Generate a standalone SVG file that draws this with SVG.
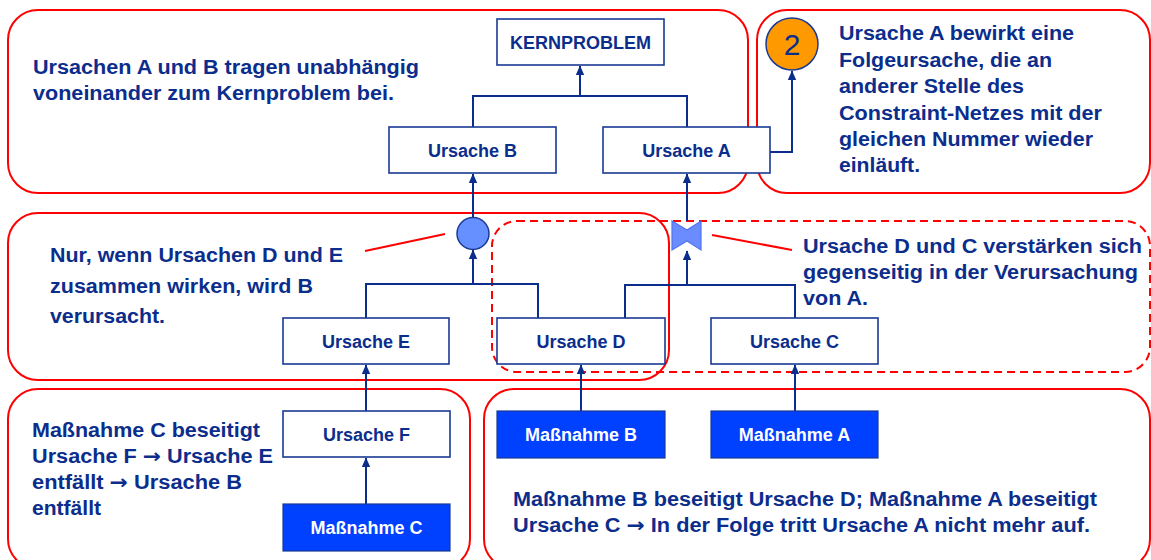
<svg xmlns="http://www.w3.org/2000/svg" width="1151" height="560" viewBox="0 0 1151 560">
<style>
.zone{fill:none;stroke:#ff0000;stroke-width:2}
.dash{stroke-dasharray:8 5}
.box{fill:#ffffff;stroke:#1a3a94;stroke-width:1.6}
.mbox{fill:#0040ff;stroke:#1a3a94;stroke-width:1.2}
.lbl{font-family:"Liberation Sans",Arial,sans-serif;font-weight:bold;font-size:18px;fill:#0b2d8c;text-anchor:middle}
.mlbl{font-family:"Liberation Sans",Arial,sans-serif;font-weight:bold;font-size:18px;fill:#ffffff;text-anchor:middle}
.note{font-family:"Liberation Sans",Arial,sans-serif;font-weight:bold;font-size:20px;fill:#0b2d8c}
.arr{font-family:"DejaVu Sans",sans-serif;font-weight:bold}
.con{fill:none;stroke:#0b2d8c;stroke-width:2}
.ann{fill:none;stroke:#ff0000;stroke-width:2}
</style>
<defs>
<marker id="ah" markerUnits="userSpaceOnUse" markerWidth="10" markerHeight="10" viewBox="0 0 10 10" refX="9" refY="5" orient="auto">
<path d="M0,0.8 L9.5,5 L0,9.2 Z" fill="#0b2d8c"/>
</marker>
</defs>

<g id="zones">
<rect class="zone" x="8" y="10" width="740" height="183" rx="30"/>
<rect class="zone" x="757" y="10" width="393" height="183" rx="30"/>
<rect class="zone" x="8" y="213" width="661" height="167" rx="30"/>
<rect class="zone dash" x="492" y="221" width="658" height="151" rx="25"/>
<rect class="zone" x="8" y="389" width="462" height="180" rx="30"/>
<rect class="zone" x="484" y="389" width="666" height="180" rx="30"/>
</g>

<g id="connectors">
<path class="con" d="M473,127 V96 H687 V127"/>
<path class="con" d="M580,96 V66" marker-end="url(#ah)"/>
<path class="con" d="M473,217 V174" marker-end="url(#ah)"/>
<path class="con" d="M687,221 V174" marker-end="url(#ah)"/>
<path class="con" d="M770,152 H792 V71" marker-end="url(#ah)"/>
<path class="con" d="M366,318 V284 H538 V318"/>
<path class="con" d="M473,284 V250" marker-end="url(#ah)"/>
<path class="con" d="M625,318 V285 H795 V318"/>
<path class="con" d="M687,285 V251" marker-end="url(#ah)"/>
<path class="con" d="M366,411 V365" marker-end="url(#ah)"/>
<path class="con" d="M366,504 V458" marker-end="url(#ah)"/>
<path class="con" d="M581,411 V365" marker-end="url(#ah)"/>
<path class="con" d="M795,411 V365" marker-end="url(#ah)"/>
<path class="ann" d="M365,251 L445,234"/>
<path class="ann" d="M712,235 L792,250"/>
</g>

<g id="kernproblem"><rect class="box" x="497" y="19" width="167" height="46"/><text class="lbl" x="580.5" y="49">KERNPROBLEM</text></g>
<g id="ursache-b"><rect class="box" x="389" y="127" width="167" height="46"/><text class="lbl" x="472.5" y="157">Ursache B</text></g>
<g id="ursache-a"><rect class="box" x="603" y="127" width="167" height="46"/><text class="lbl" x="686.5" y="157">Ursache A</text></g>
<g id="ref-2"><circle cx="792" cy="44" r="26" fill="#ff9900" stroke="#1a3a94" stroke-width="1.5"/><text x="792" y="55" font-family="Liberation Sans,Arial,sans-serif" font-size="30" fill="#0b2d8c" text-anchor="middle">2</text></g>
<g id="and-node"><circle cx="473" cy="233.5" r="16" fill="#6690ff" stroke="#1a3a94" stroke-width="1.5"/></g>
<g id="amplify-node"><polygon points="672,221 687,230 701,221 701,250 687,241 672,250" fill="#6a8cff" stroke="#4f74f0" stroke-width="1.2"/></g>
<g id="ursache-e"><rect class="box" x="283" y="318" width="166" height="46"/><text class="lbl" x="366" y="348">Ursache E</text></g>
<g id="ursache-d"><rect class="box" x="497" y="318" width="168" height="46"/><text class="lbl" x="581" y="348">Ursache D</text></g>
<g id="ursache-c"><rect class="box" x="711" y="318" width="167" height="46"/><text class="lbl" x="794.5" y="348">Ursache C</text></g>
<g id="ursache-f"><rect class="box" x="283" y="411" width="167" height="46"/><text class="lbl" x="366.5" y="441">Ursache F</text></g>
<g id="massnahme-c"><rect class="mbox" x="283" y="504" width="167" height="47"/><text class="mlbl" x="366.5" y="534">Maßnahme C</text></g>
<g id="massnahme-b"><rect class="mbox" x="497" y="411" width="168" height="47"/><text class="mlbl" x="581" y="441">Maßnahme B</text></g>
<g id="massnahme-a"><rect class="mbox" x="711" y="411" width="167" height="47"/><text class="mlbl" x="794.5" y="441">Maßnahme A</text></g>

<g id="notes">
<text class="note" x="33" y="74" textLength="386" lengthAdjust="spacingAndGlyphs">Ursachen A und B tragen unabhängig</text>
<text class="note" x="33" y="100" textLength="361" lengthAdjust="spacingAndGlyphs">voneinander zum Kernproblem bei.</text>

<text class="note" x="839" y="40" textLength="235" lengthAdjust="spacingAndGlyphs">Ursache A bewirkt eine</text>
<text class="note" x="839" y="66.5" textLength="213" lengthAdjust="spacingAndGlyphs">Folgeursache, die an</text>
<text class="note" x="839" y="93" textLength="185" lengthAdjust="spacingAndGlyphs">anderer Stelle des</text>
<text class="note" x="839" y="119.5" textLength="263" lengthAdjust="spacingAndGlyphs">Constraint-Netzes mit der</text>
<text class="note" x="839" y="146" textLength="254" lengthAdjust="spacingAndGlyphs">gleichen Nummer wieder</text>
<text class="note" x="839" y="172" textLength="81" lengthAdjust="spacingAndGlyphs">einläuft.</text>

<text class="note" x="50" y="262" textLength="293" lengthAdjust="spacingAndGlyphs">Nur, wenn Ursachen D und E</text>
<text class="note" x="50" y="292.5" textLength="263" lengthAdjust="spacingAndGlyphs">zusammen wirken, wird B</text>
<text class="note" x="50" y="323" textLength="115" lengthAdjust="spacingAndGlyphs">verursacht.</text>

<text class="note" x="803" y="253" textLength="339" lengthAdjust="spacingAndGlyphs">Ursache D und C verstärken sich</text>
<text class="note" x="803" y="279" textLength="335" lengthAdjust="spacingAndGlyphs">gegenseitig in der Verursachung</text>
<text class="note" x="803" y="304.5" textLength="65" lengthAdjust="spacingAndGlyphs">von A.</text>

<text class="note" x="32" y="437" textLength="228" lengthAdjust="spacingAndGlyphs">Maßnahme C beseitigt</text>
<text class="note" x="32" y="463" textLength="241" lengthAdjust="spacingAndGlyphs">Ursache F <tspan class="arr">→</tspan> Ursache E</text>
<text class="note" x="32" y="489" textLength="210" lengthAdjust="spacingAndGlyphs">entfällt <tspan class="arr">→</tspan> Ursache B</text>
<text class="note" x="32" y="515" textLength="69" lengthAdjust="spacingAndGlyphs">entfällt</text>

<text class="note" x="513" y="506" textLength="584" lengthAdjust="spacingAndGlyphs">Maßnahme B beseitigt Ursache D; Maßnahme A beseitigt</text>
<text class="note" x="513" y="532" textLength="577" lengthAdjust="spacingAndGlyphs">Ursache C <tspan class="arr">→</tspan> In der Folge tritt Ursache A nicht mehr auf.</text>
</g>
</svg>
